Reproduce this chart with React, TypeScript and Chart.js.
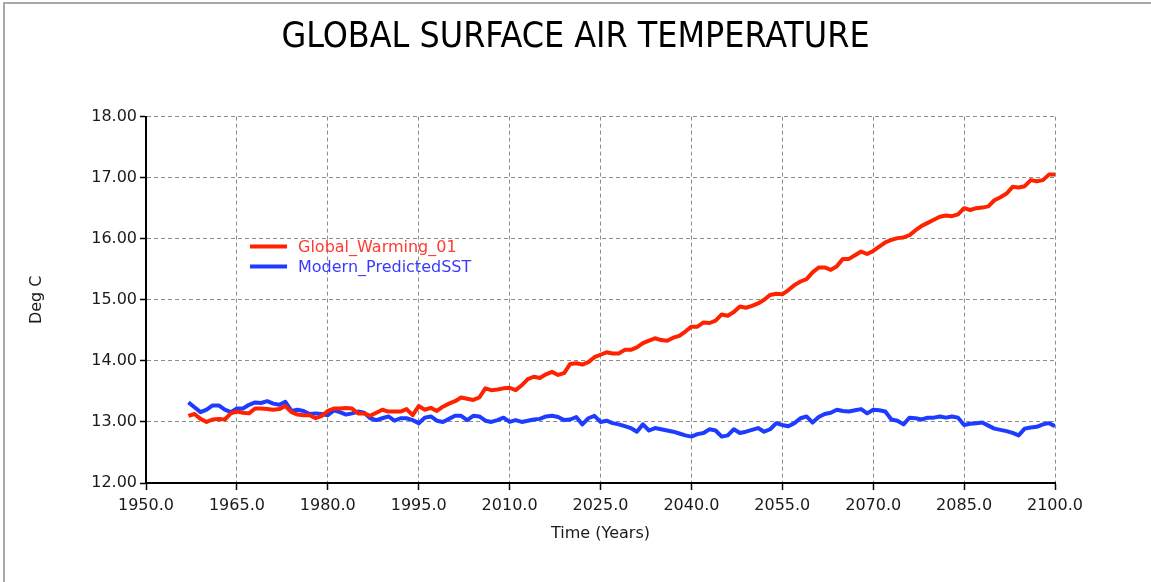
import { useEffect, useRef } from "react";
import { Chart, registerables } from "chart.js";

Chart.register(...registerables);

const TITLE = "GLOBAL SURFACE AIR TEMPERATURE";
const X_TITLE = "Time (Years)";
const Y_TITLE = "Deg C";

const YEARS = [
  1957, 1958, 1959,
  1960, 1961, 1962, 1963, 1964, 1965, 1966, 1967, 1968, 1969,
  1970, 1971, 1972, 1973, 1974, 1975, 1976, 1977, 1978, 1979,
  1980, 1981, 1982, 1983, 1984, 1985, 1986, 1987, 1988, 1989,
  1990, 1991, 1992, 1993, 1994, 1995, 1996, 1997, 1998, 1999,
  2000, 2001, 2002, 2003, 2004, 2005, 2006, 2007, 2008, 2009,
  2010, 2011, 2012, 2013, 2014, 2015, 2016, 2017, 2018, 2019,
  2020, 2021, 2022, 2023, 2024, 2025, 2026, 2027, 2028, 2029,
  2030, 2031, 2032, 2033, 2034, 2035, 2036, 2037, 2038, 2039,
  2040, 2041, 2042, 2043, 2044, 2045, 2046, 2047, 2048, 2049,
  2050, 2051, 2052, 2053, 2054, 2055, 2056, 2057, 2058, 2059,
  2060, 2061, 2062, 2063, 2064, 2065, 2066, 2067, 2068, 2069,
  2070, 2071, 2072, 2073, 2074, 2075, 2076, 2077, 2078, 2079,
  2080, 2081, 2082, 2083, 2084, 2085, 2086, 2087, 2088, 2089,
  2090, 2091, 2092, 2093, 2094, 2095, 2096, 2097, 2098, 2099,
  2100,
];

const GLOBAL_WARMING_01 = [
  13.10, 13.13, 13.05,
  13.00, 13.04, 13.05, 13.04, 13.14, 13.17, 13.15, 13.14, 13.22, 13.22,
  13.21, 13.20, 13.21, 13.26, 13.16, 13.12, 13.11, 13.11, 13.06, 13.10,
  13.18, 13.22, 13.22, 13.23, 13.22, 13.14, 13.14, 13.10, 13.15, 13.20,
  13.17, 13.17, 13.17, 13.21, 13.11, 13.26, 13.20, 13.23, 13.18, 13.25,
  13.30, 13.34, 13.40, 13.38, 13.36, 13.40, 13.55, 13.52, 13.53, 13.55,
  13.56, 13.52, 13.60, 13.70, 13.74, 13.72, 13.78, 13.82, 13.77, 13.80,
  13.95, 13.96, 13.94, 13.98, 14.06, 14.10, 14.14, 14.12, 14.12, 14.18,
  14.18, 14.22, 14.29, 14.33, 14.37, 14.34, 14.33, 14.38, 14.41, 14.48,
  14.56, 14.56, 14.63, 14.62, 14.66, 14.76, 14.74, 14.80, 14.89, 14.87,
  14.90, 14.94, 15.00, 15.08, 15.10, 15.09, 15.16, 15.24, 15.30, 15.34,
  15.45, 15.53, 15.53, 15.49, 15.55, 15.67, 15.67, 15.73, 15.79, 15.75,
  15.80, 15.87, 15.94, 15.98, 16.01, 16.02, 16.06, 16.14, 16.21, 16.26,
  16.31, 16.36, 16.38, 16.37, 16.40, 16.50, 16.47, 16.50, 16.51, 16.53,
  16.63, 16.68, 16.74, 16.85, 16.84, 16.86, 16.96, 16.94, 16.96, 17.05,
  17.05,
];

const MODERN_PREDICTED_SST = [
  13.32, 13.24, 13.16,
  13.20, 13.27, 13.27, 13.20, 13.16, 13.22, 13.22, 13.28, 13.32, 13.31,
  13.34, 13.30, 13.28, 13.33, 13.18, 13.20, 13.18, 13.13, 13.14, 13.13,
  13.11, 13.19, 13.16, 13.12, 13.14, 13.17, 13.15, 13.06, 13.03, 13.06,
  13.09, 13.02, 13.06, 13.06, 13.03, 12.98, 13.07, 13.09, 13.02, 13.00,
  13.05, 13.10, 13.10, 13.03, 13.10, 13.09, 13.02, 13.00, 13.03, 13.07,
  13.00, 13.03, 13.00, 13.02, 13.04, 13.05, 13.09, 13.10, 13.08, 13.03,
  13.04, 13.08, 12.96, 13.06, 13.10, 13.00, 13.02, 12.98, 12.96, 12.93,
  12.90, 12.84, 12.96, 12.86, 12.90, 12.88, 12.86, 12.84, 12.81, 12.78,
  12.76, 12.80, 12.82, 12.88, 12.86, 12.76, 12.78, 12.88, 12.82, 12.84,
  12.87, 12.90, 12.84, 12.88, 12.98, 12.95, 12.93, 12.98, 13.06, 13.09,
  12.99, 13.08, 13.13, 13.15, 13.20, 13.18, 13.17, 13.19, 13.21, 13.14,
  13.20, 13.19, 13.17, 13.04, 13.02, 12.96, 13.07, 13.06, 13.04, 13.07,
  13.07, 13.09, 13.07, 13.09, 13.07, 12.95, 12.97, 12.98, 12.99, 12.94,
  12.89, 12.87, 12.85, 12.82, 12.78, 12.89, 12.91, 12.92, 12.96, 12.98,
  12.93,
];

const SERIES_NAMES = ["Global_Warming_01", "Modern_PredictedSST"];
const SERIES_COLORS = ["#ff2200", "#1e3cff"];
const LEGEND_TEXT_COLORS = ["#ff3a30", "#3a3aff"];

const X_MIN = 1950;
const X_MAX = 2100;
const X_STEP = 15;
const Y_MIN = 12;
const Y_MAX = 18;
const Y_STEP = 1;

const FONT = "'DejaVu Sans', 'Verdana', sans-serif";

const insideLegend = {
  id: "insideLegend",
  afterDatasetsDraw(chart: any) {
    const { ctx, chartArea } = chart;
    const x0 = chartArea.left + 104;
    const y0 = chartArea.top + 130;
    const rowH = 20;
    ctx.save();
    ctx.font = `16px ${FONT}`;
    ctx.textBaseline = "middle";
    ctx.textAlign = "left";
    chart.data.datasets.forEach((ds: any, i: number) => {
      const y = y0 + i * rowH;
      ctx.strokeStyle = ds.borderColor;
      ctx.lineWidth = 4;
      ctx.beginPath();
      ctx.moveTo(x0, y);
      ctx.lineTo(x0 + 37, y);
      ctx.stroke();
      ctx.fillStyle = LEGEND_TEXT_COLORS[i];
      ctx.fillText(ds.label, x0 + 48, y + 1);
    });
    ctx.restore();
  },
};

export default function App() {
  const canvasRef = useRef<HTMLCanvasElement | null>(null);

  useEffect(() => {
    if (!canvasRef.current) return;
    const seriesValues = [GLOBAL_WARMING_01, MODERN_PREDICTED_SST];
    const chart = new Chart(canvasRef.current, {
      type: "line",
      data: {
        datasets: seriesValues.map((vals, i) => ({
          label: SERIES_NAMES[i],
          data: YEARS.map((yr, j) => ({ x: yr, y: vals[j] })),
          borderColor: SERIES_COLORS[i],
          backgroundColor: SERIES_COLORS[i],
          borderWidth: 4,
          pointRadius: 0,
          tension: 0,
          fill: false,
          borderJoinStyle: "round" as const,
          xAxisID: "x",
          yAxisID: "y",
        })),
      },
      options: {
        animation: false,
        responsive: false,
        maintainAspectRatio: false,
        layout: { padding: { left: 0, right: 0, top: 0, bottom: 0 } },
        plugins: {
          legend: { display: false },
          tooltip: { enabled: false },
          title: {
            display: true,
            text: TITLE,
            color: "#000",
            font: { family: "'DejaVu Sans Condensed', 'DejaVu Sans', sans-serif", size: 35.5, weight: "normal" },
            padding: { top: 16, bottom: 58 },
          },
        },
        scales: {
          x: {
            type: "linear",
            min: X_MIN,
            max: X_MAX,
            afterFit: (scale: any) => {
              scale.height = 99;
            },
            ticks: {
              stepSize: X_STEP,
              autoSkip: false,
              maxRotation: 0,
              padding: 6,
              color: "#1a1a1a",
              font: { family: FONT, size: 16 },
              callback: (v: any) => Number(v).toFixed(1),
            },
            grid: {
              color: "#8c8c8c",
              lineWidth: 1,
              tickLength: 7,
              tickColor: "#000",
              tickWidth: 1.5,
            },
            border: { display: true, color: "#000", width: 2, dash: [4, 3] },
            title: {
              display: true,
              text: X_TITLE,
              color: "#1a1a1a",
              font: { family: FONT, size: 16 },
              padding: { top: 0, bottom: 39 },
            },
          },
          y: {
            type: "linear",
            position: "left",
            min: Y_MIN,
            max: Y_MAX,
            afterFit: (scale: any) => {
              scale.width = 146;
            },
            ticks: {
              stepSize: Y_STEP,
              padding: 3,
              color: "#1a1a1a",
              font: { family: FONT, size: 16 },
              callback: (v: any) => Number(v).toFixed(2),
            },
            grid: {
              color: "#8c8c8c",
              lineWidth: 1,
              tickLength: 6,
              tickColor: "#000",
              tickWidth: 1.5,
            },
            border: { display: true, color: "#000", width: 2, dash: [4, 3] },
            title: {
              display: true,
              text: Y_TITLE,
              color: "#1a1a1a",
              font: { family: FONT, size: 16 },
              padding: { top: 27, bottom: 0 },
            },
          },
          rightMargin: {
            type: "linear",
            position: "right",
            min: Y_MIN,
            max: Y_MAX,
            afterFit: (scale: any) => {
              scale.width = 96;
            },
            ticks: { display: false },
            grid: { display: false, drawOnChartArea: false, drawTicks: false },
            border: { display: false },
            title: { display: false },
          },
        },
      },
      plugins: [insideLegend],
    });
    return () => chart.destroy();
  }, []);

  return (
    <div style={{ position: "absolute", left: 0, top: 0, width: 1151, height: 582, background: "#fff" }}>
      <canvas ref={canvasRef} width={1151} height={582} style={{ display: "block" }} />
      <div
        style={{
          position: "absolute",
          left: 3,
          top: 2,
          width: 1148,
          height: 580,
          boxSizing: "border-box",
          borderTop: "2px solid #a8a8a8",
          borderLeft: "2px solid #a8a8a8",
          pointerEvents: "none",
        }}
      />
    </div>
  );
}
